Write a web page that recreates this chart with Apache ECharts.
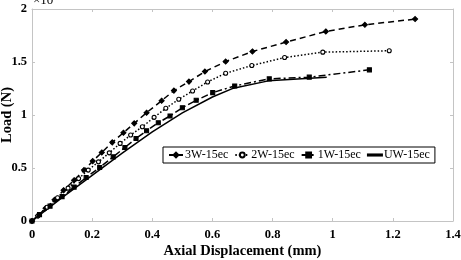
<!DOCTYPE html>
<html><head><meta charset="utf-8">
<script src="https://cdn.jsdelivr.net/npm/echarts@6/dist/echarts.min.js"></script>
<style>html,body{margin:0;padding:0;background:#fff}#c{width:461px;height:260px}</style>
</head><body><div id="c"></div>
<script>
var seriesNames = ['3W-15ec', '2W-15ec', '1W-15ec', 'UW-15ec'];
var xTicks = [0, 0.2, 0.4, 0.6, 0.8, 1, 1.2, 1.4];
var yTicks = [0, 0.5, 1, 1.5, 2];
var w3 = [[0,0],[0.02,0.05],[0.045,0.12],[0.075,0.2],[0.105,0.29],[0.14,0.385],[0.173,0.48],[0.202,0.565],[0.232,0.647],[0.267,0.742],[0.304,0.833],[0.34,0.921],[0.381,1.022],[0.431,1.135],[0.472,1.23],[0.522,1.315],[0.575,1.41],[0.644,1.504],[0.733,1.599],[0.845,1.688],[0.977,1.788],[1.107,1.851],[1.274,1.905]];
var w2 = [[0,0],[0.02,0.05],[0.05,0.13],[0.085,0.22],[0.12,0.31],[0.155,0.4],[0.187,0.48],[0.221,0.558],[0.257,0.643],[0.293,0.732],[0.328,0.811],[0.367,0.889],[0.406,0.978],[0.445,1.063],[0.488,1.148],[0.534,1.227],[0.584,1.312],[0.644,1.394],[0.731,1.467],[0.84,1.542],[0.967,1.593],[1.188,1.606]];
var w1 = [[0,0],[0.025,0.06],[0.06,0.14],[0.1,0.23],[0.14,0.32],[0.18,0.41],[0.225,0.505],[0.27,0.605],[0.309,0.694],[0.346,0.779],[0.381,0.851],[0.42,0.927],[0.459,0.991],[0.5,1.069],[0.546,1.139],[0.601,1.211],[0.674,1.274],[0.789,1.341],[0.922,1.357],[1.122,1.426]];
var uw = [[0,0],[0.1,0.22],[0.2,0.43],[0.3,0.64],[0.4,0.84],[0.5,1.02],[0.6,1.17],[0.67,1.253],[0.786,1.322],[0.98,1.357]];

var chart = echarts.init(document.getElementById('c'), null, {renderer:'canvas'});
var serif = 'Liberation Serif';
var frame = '#c4c4c4';
function axisBase(show){
  return {
    axisLine:{show:true, onZero:false, lineStyle:{color:frame, width:1}},
    axisTick:{show:true, inside:true, length:3, lineStyle:{color:frame}},
    splitLine:{show:false},
    axisLabel:{show:show, color:'#000', fontFamily:serif, fontWeight:'bold', fontSize:12.5}
  };
}
var xMain = Object.assign(axisBase(true), {type:'value', min:xTicks[0], max:xTicks[xTicks.length-1], interval:0.2,
  name:'Axial Displacement (mm)', nameLocation:'middle', nameGap:23, nameMoveOverlap:false,
  nameTextStyle:{color:'#000', fontFamily:serif, fontWeight:'bold', fontSize:14.5}});
xMain.axisLabel.margin = 7;
xMain.axisLabel.formatter = function(v){return String(Math.round(v*10)/10);};
var xTop = Object.assign(axisBase(false), {type:'value', position:'top', min:xTicks[0], max:xTicks[xTicks.length-1], interval:0.2});
var yMain = Object.assign(axisBase(true), {type:'value', min:yTicks[0], max:yTicks[yTicks.length-1], interval:0.5,
  name:'Load (N)', nameLocation:'middle', nameGap:17, nameMoveOverlap:false,
  nameTextStyle:{color:'#000', fontFamily:serif, fontWeight:'bold', fontSize:14.5}});
yMain.axisLabel.margin = 5;
var yRight = Object.assign(axisBase(false), {type:'value', position:'right', min:yTicks[0], max:yTicks[yTicks.length-1], interval:0.5});

function mk(name, data, dash, symbol, size, fill){
  return {name:name, type:'line', data:data, xAxisIndex:0, yAxisIndex:0,
    symbol:symbol, symbolSize:size, showSymbol: symbol!=='none',
    itemStyle:{color:fill, borderColor:'#000', borderWidth:1.1},
    lineStyle:{color:'#000', width:1.5, type:dash}, animation:false, z:3};
}
chart.setOption({
  animation:false,
  grid:{left:32, right:8, top:9, bottom:39, containLabel:false, outerBoundsMode:'none'},
  xAxis:[xMain, xTop],
  yAxis:[yMain, yRight],
  legend:{
    data:[seriesNames[0], seriesNames[1], seriesNames[2],
      {name:seriesNames[3], icon:'path://M0,0H20V1.6H0Z'}],
    left:163, top:147, orient:'horizontal',
    borderColor:'#000', borderWidth:1, padding:[2,5,2,5], backgroundColor:'#fff',
    itemWidth:14, itemHeight:6, itemGap:6,
    textStyle:{color:'#000', fontFamily:serif, fontSize:12, padding:[0,0,0,-3]}
  },
  graphic:[{type:'text', left:33, top:-6, style:{text:'\u00d710', font:'13px "Liberation Serif"', fill:'#000'}}],
  series:[
    mk(seriesNames[0], w3, [6,4], 'diamond', 5, '#000'),
    mk(seriesNames[1], w2, [1.5,2], 'circle', 4, '#fff'),
    mk(seriesNames[2], w1, [7,3,2,3], 'rect', 4, '#000'),
    mk(seriesNames[3], uw, 'solid', 'none', 0, '#000')
  ]
});
</script></body></html>
